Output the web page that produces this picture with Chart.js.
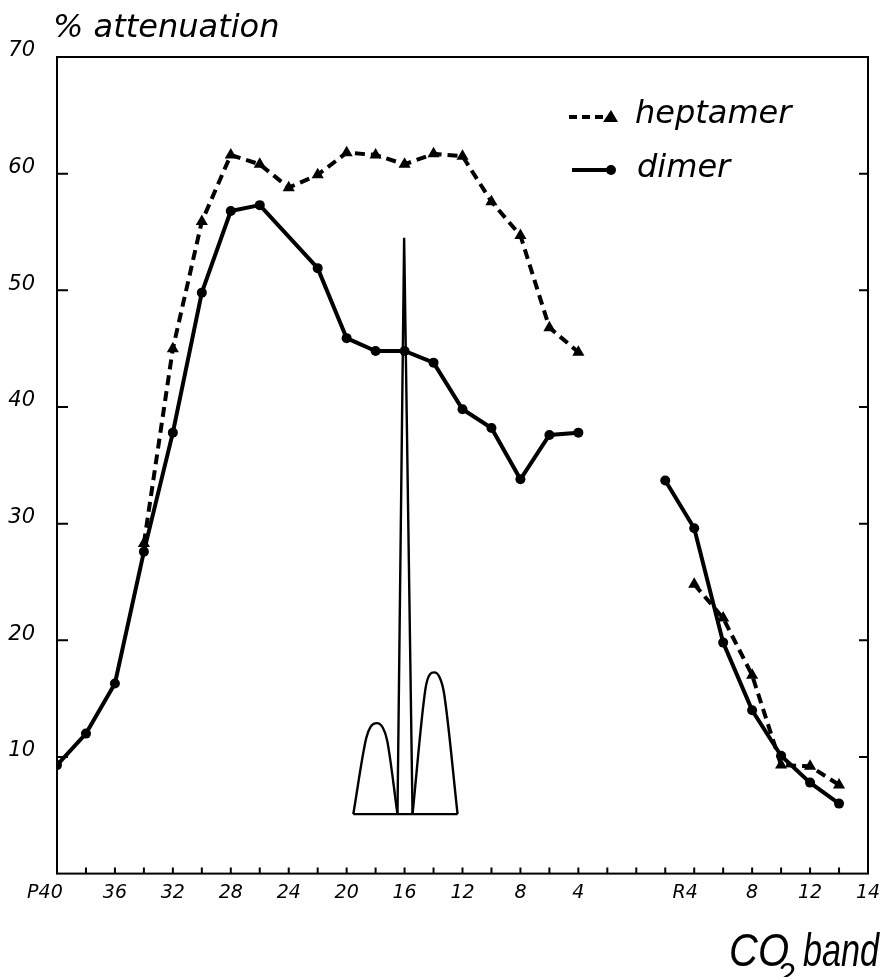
<!DOCTYPE html>
<html>
<head>
<meta charset="utf-8">
<script src="https://cdn.jsdelivr.net/npm/chart.js@4"></script>
<style>
  html, body { margin: 0; padding: 0; background: #fff; }
  canvas { display: block; }
</style>
</head>
<body>
<canvas id="chart" width="883" height="977"></canvas>
<script>
// --- data ---
// band position on the axis: P(J) -> 40 - J, R(J) -> 40 + J
const dimerPJ = [40, 38, 36, 34, 32, 30, 28, 26, 22, 20, 18, 16, 14, 12, 10, 8, 6, 4];
const dimerPVal = [9.3, 12.0, 16.3, 27.6, 37.8, 49.8, 56.8, 57.3, 51.9, 45.9, 44.8, 44.8, 43.8, 39.8, 38.2, 33.8, 37.6, 37.8];
const dimerRJ = [2, 4, 6, 8, 10, 12, 14];
const dimerRVal = [33.7, 29.6, 19.8, 14.0, 10.1, 7.8, 6.0];

const heptPJ = [34, 32, 30, 28, 26, 24, 22, 20, 18, 16, 14, 12, 10, 8, 6, 4];
const heptPVal = [28.3, 45.0, 55.9, 61.6, 60.8, 58.8, 59.9, 61.8, 61.6, 60.8, 61.7, 61.5, 57.6, 54.7, 46.8, 44.7];
const heptRJ = [4, 6, 8, 10, 12, 14];
const heptRVal = [24.8, 21.9, 17.0, 9.3, 9.2, 7.6];

// laser line / filter profile sketched around P16
const humpLeftPos = [20.46, 21.35, 21.66, 22.08, 22.5, 22.8, 23.51];
const humpLeftVal = [5.1, 11.6, 12.6, 12.9, 12.5, 11.4, 5.1];
const humpRightPos = [24.55, 25.45, 25.76, 26.04, 26.39, 26.72, 27.66];
const humpRightVal = [5.1, 15.9, 17.1, 17.25, 16.9, 15.5, 5.1];
const spikePos = [23.51, 23.97, 24.55];
const spikeVal = [5.1, 54.5, 5.1];
const basePos = [20.46, 27.66];
const baseVal = [5.1, 5.1];

// axis ticks (trailing spaces nudge the prefixed labels left, as printed)
const xTickPos = [0, 4, 8, 12, 16, 20, 24, 28, 32, 36, 44, 48, 52, 56];
const xTickText = ['P40    ', '36', '32', '28', '24', '20', '16', '12', '8', '4', 'R4   ', '8', '12', '14'];
const yTickVals = [10, 20, 30, 40, 50, 60, 70];

const FONT = 'DejaVu Sans';

function toPoints(pos, vals) {
    return pos.map((p, i) => ({ x: p, y: vals[i] }));
}

const dimerData = dimerPJ.map((j, i) => ({ x: 40 - j, y: dimerPVal[i] }))
    .concat([{ x: 40, y: null }])
    .concat(dimerRJ.map((j, i) => ({ x: 40 + j, y: dimerRVal[i] })));

const heptData = heptPJ.map((j, i) => ({ x: 40 - j, y: heptPVal[i] }))
    .concat([{ x: 40, y: null }])
    .concat(heptRJ.map((j, i) => ({ x: 40 + j, y: heptRVal[i] })));

function profileSet(pos, vals, smooth) {
    return {
        data: toPoints(pos, vals),
        borderColor: '#000',
        borderWidth: 2.4,
        pointRadius: 0,
        cubicInterpolationMode: smooth ? 'monotone' : 'default',
        tension: 0
    };
}

// frame, inner ticks, legend and titles
const decorations = {
    id: 'decorations',
    afterDraw(chart) {
        const ctx = chart.ctx;
        const area = chart.chartArea;
        const xs = chart.scales.x;
        const ys = chart.scales.y;
        ctx.save();
        ctx.strokeStyle = '#000';
        ctx.fillStyle = '#000';
        ctx.lineWidth = 2;
        ctx.strokeRect(area.left, area.top, area.right - area.left, area.bottom - area.top);

        // tick marks pointing into the plot
        ctx.beginPath();
        for (let v = 10; v <= 60; v += 10) {
            const y = ys.getPixelForValue(v);
            ctx.moveTo(area.left, y); ctx.lineTo(area.left + 11, y);
            ctx.moveTo(area.right, y); ctx.lineTo(area.right - 9, y);
        }
        for (let u = 2; u <= 54; u += 2) {
            const x = xs.getPixelForValue(u);
            ctx.moveTo(x, area.bottom); ctx.lineTo(x, area.bottom - 6);
        }
        ctx.stroke();

        // legend
        ctx.lineWidth = 4;
        ctx.setLineDash([8, 5]);
        ctx.beginPath(); ctx.moveTo(569, 117); ctx.lineTo(604, 117); ctx.stroke();
        ctx.setLineDash([]);
        ctx.beginPath();
        ctx.moveTo(611, 110); ctx.lineTo(618, 122); ctx.lineTo(603, 122); ctx.closePath();
        ctx.fill();
        ctx.beginPath(); ctx.moveTo(572, 170); ctx.lineTo(608, 170); ctx.stroke();
        ctx.beginPath(); ctx.arc(611, 170, 5, 0, Math.PI * 2); ctx.fill();

        ctx.textBaseline = 'alphabetic';
        ctx.textAlign = 'left';
        ctx.font = 'italic 32px "' + FONT + '"';
        ctx.fillText('heptamer', 635, 123);
        ctx.fillText('dimer', 637, 177);
        ctx.fillText('% attenuation', 53, 37);

        // x title with subscript
        ctx.font = 'italic 46px "Liberation Sans"';
        ctx.fillText('CO', 729, 966, 60);
        ctx.font = 'italic 32px "Liberation Sans"';
        ctx.fillText('2', 777, 985, 20);
        ctx.font = 'italic 46px "Liberation Sans"';
        ctx.fillText('band', 803, 966, 76);
        ctx.restore();
    }
};

new Chart(document.getElementById('chart'), {
    type: 'line',
    data: {
        datasets: [
            {
                label: 'heptamer',
                data: heptData,
                borderColor: '#000',
                backgroundColor: '#000',
                borderWidth: 4,
                borderDash: [10, 6],
                pointStyle: 'triangle',
                pointRadius: 7,
                pointBorderWidth: 0,
                spanGaps: false,
                tension: 0
            },
            {
                label: 'dimer',
                data: dimerData,
                borderColor: '#000',
                backgroundColor: '#000',
                borderWidth: 4,
                pointStyle: 'circle',
                pointRadius: 5,
                pointBorderWidth: 0,
                spanGaps: false,
                tension: 0
            },
            profileSet(basePos, baseVal, false),
            profileSet(humpLeftPos, humpLeftVal, true),
            profileSet(humpRightPos, humpRightVal, true),
            profileSet(spikePos, spikeVal, false)
        ]
    },
    options: {
        responsive: false,
        animation: false,
        layout: { padding: { top: 57, right: 15, left: 0, bottom: 0 } },
        plugins: {
            legend: { display: false },
            tooltip: { enabled: false }
        },
        scales: {
            x: {
                type: 'linear',
                min: 0,
                max: 56,
                grid: { display: false, drawTicks: false },
                border: { display: false },
                afterFit: s => { s.height = 103.4; s.paddingRight = 0; s.paddingLeft = 0; },
                ticks: {
                    stepSize: 2,
                    autoSkip: false,
                    maxRotation: 0,
                    padding: 8,
                    color: '#000',
                    font: { family: FONT, style: 'italic', size: 19 },
                    callback: v => {
                        const i = xTickPos.indexOf(v);
                        return i >= 0 ? xTickText[i] : '';
                    }
                }
            },
            y: {
                min: 0,
                max: 70,
                grid: { display: false, drawTicks: false },
                border: { display: false },
                afterFit: s => { s.width = 57; },
                ticks: {
                    stepSize: 10,
                    padding: 22,
                    labelOffset: -6,
                    color: '#000',
                    font: { family: FONT, style: 'italic', size: 21 },
                    callback: v => yTickVals.includes(v) ? String(v) : null
                }
            }
        }
    },
    plugins: [decorations]
});
</script>
</body>
</html>
